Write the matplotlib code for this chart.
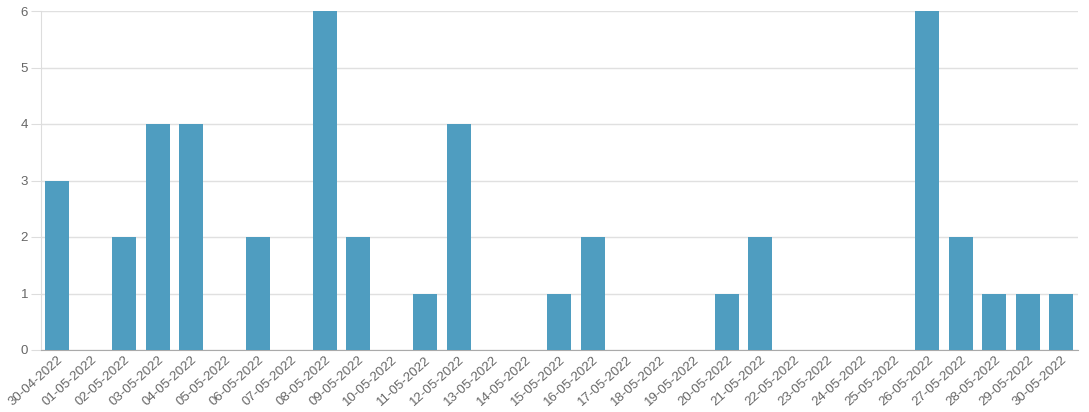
import matplotlib
matplotlib.use("Agg")
import matplotlib.pyplot as plt

plt.rcParams["font.family"] = ["Liberation Sans", "DejaVu Sans"]

dates = ["30-04-2022", "01-05-2022", "02-05-2022", "03-05-2022", "04-05-2022",
         "05-05-2022", "06-05-2022", "07-05-2022", "08-05-2022", "09-05-2022",
         "10-05-2022", "11-05-2022", "12-05-2022", "13-05-2022", "14-05-2022",
         "15-05-2022", "16-05-2022", "17-05-2022", "18-05-2022", "19-05-2022",
         "20-05-2022", "21-05-2022", "22-05-2022", "23-05-2022", "24-05-2022",
         "25-05-2022", "26-05-2022", "27-05-2022", "28-05-2022", "29-05-2022",
         "30-05-2022"]
counts = [3, 0, 2, 4, 4, 0, 2, 0, 6, 2, 0, 1, 4, 0, 0, 1, 2, 0, 0, 0,
          1, 2, 0, 0, 0, 0, 6, 2, 1, 1, 1]

fig = plt.figure(figsize=(10.89, 4.12), dpi=100)
ax = fig.add_axes([40.5 / 1089, 1 - 350 / 412, (1078 - 40.5) / 1089, (350 - 11) / 412])

x = list(range(len(dates)))
ax.bar(x, counts, width=0.72, color="#4f9dc0", zorder=3)

ax.set_xlim(-0.5, len(dates) - 0.5)
ax.set_ylim(0, 6)
ax.set_yticks(range(0, 7))
ax.set_xticks(x)
ax.set_xticklabels(dates, rotation=42, ha="right", rotation_mode="anchor")

ax.grid(axis="y", color="#e0e0e0", linewidth=1, zorder=0)
for side in ["top", "right"]:
    ax.spines[side].set_visible(False)
ax.spines["left"].set_color("#dddddd")
ax.spines["bottom"].set_color("#aaaaaa")
ax.tick_params(axis="x", length=0, pad=3, labelsize=9.5, labelcolor="#666666")
ax.tick_params(axis="y", length=7, color="#dddddd", pad=2, labelsize=9.5, labelcolor="#666666")

fig.savefig("out.png", dpi=100)
